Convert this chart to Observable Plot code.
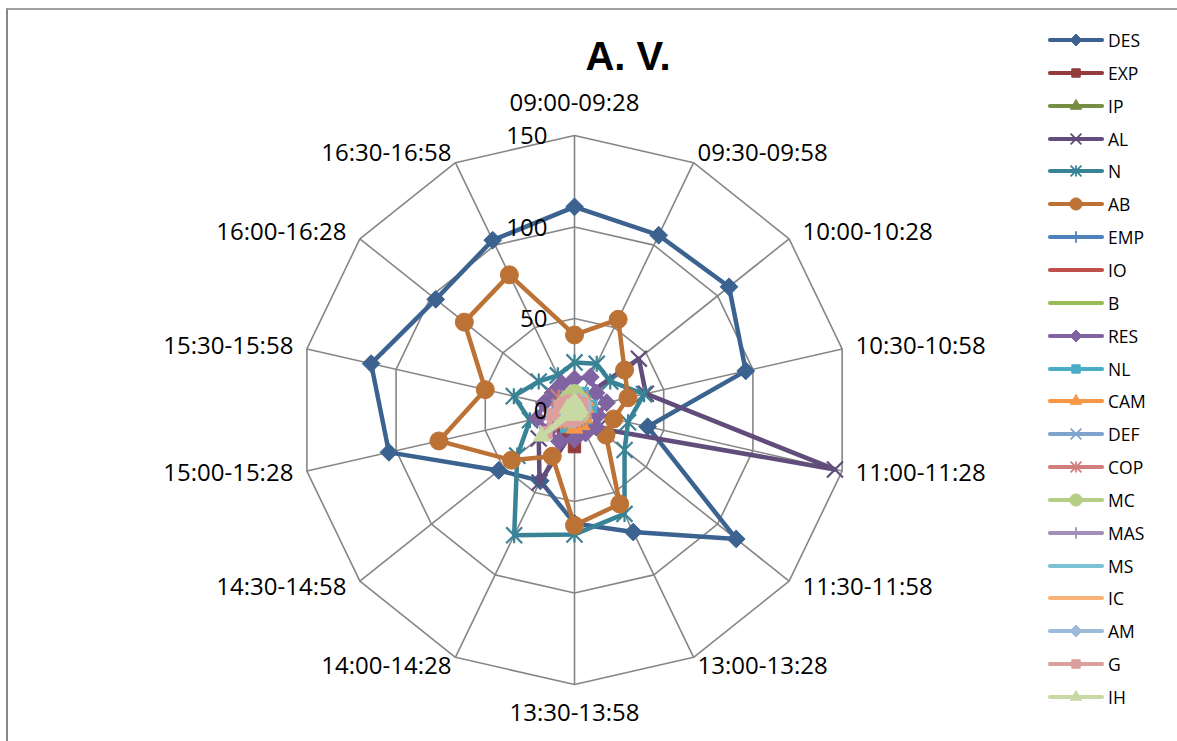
<!DOCTYPE html>
<html>
<head>
<meta charset="utf-8">
<script src="https://cdn.jsdelivr.net/npm/d3@7"></script>
<script src="https://cdn.jsdelivr.net/npm/@observablehq/plot@0.6"></script>
<style>
  html, body { margin: 0; padding: 0; background: #fff; }
  #wrap { position: relative; width: 1177px; height: 741px; overflow: hidden;
          font-family: "Open Sans", sans-serif; color: #000; }
  #frame { position: absolute; left: 6px; top: 8px; width: 1300px; height: 900px;
           border-left: 2px solid #878787; border-top: 2px solid #a0a0a0; }
  #title { position: absolute; left: 528px; width: 200px; top: 33px; text-align: center;
           font-family: "Liberation Sans", Arial, sans-serif; font-weight: bold; font-size: 40px; line-height: 46px; }
  #legend { position: absolute; left: 1044px; top: 0; }
  .item { position: absolute; left: 0; height: 24px; width: 130px; }
  .item svg { position: absolute; left: 0; top: 0; }
  .item span { position: absolute; left: 64px; top: 0; font-size: 17.5px; line-height: 24px; }
  #chart { position: absolute; left: 0; top: 0; }
</style>
</head>
<body>
<div id="wrap">
  <div id="frame"></div>
  <div id="chart"></div>
  <div id="title">A. V.</div>
  <div id="legend"></div>
</div>
<script>
// Half-hour time slots around the radar, clockwise from the top
const categories = ["09:00-09:28", "09:30-09:58", "10:00-10:28", "10:30-10:58", "11:00-11:28",
  "11:30-11:58", "13:00-13:28", "13:30-13:58", "14:00-14:28", "14:30-14:58",
  "15:00-15:28", "15:30-15:58", "16:00-16:28", "16:30-16:58"];

const valueTicks = [0, 50, 100, 150];

const seriesNames = ["DES", "EXP", "IP", "AL", "N", "AB", "EMP", "IO", "B", "RES", "NL",
  "CAM", "DEF", "COP", "MC", "MAS", "MS", "IC", "AM", "G", "IH"];

// One value per time slot for each series
const DES = [111, 106, 108, 96, 41, 113, 74, 62, 43, 53, 104, 114, 97, 103];
const EXP = [4, 3, 5, 4, 3, 5, 6, 20, 14, 6, 4, 3, 3, 3];
const IP  = [3, 2, 3, 4, 3, 3, 4, 5, 4, 3, 2, 2, 3, 3];
const AL  = [5, 6, 45, 40, 146, 16, 8, 10, 44, 25, 8, 6, 5, 6];
const N   = [26, 28, 25, 39, 30, 35, 63, 68, 76, 40, 25, 34, 25, 21];
const AB  = [41, 55, 35, 30, 22, 22, 57, 63, 28, 44, 76, 50, 77, 82];
const EMP = [5, 4, 4, 5, 4, 3, 4, 6, 5, 4, 5, 4, 4, 5];
const IO  = [3, 2, 3, 3, 2, 3, 3, 4, 3, 3, 2, 2, 2, 3];
const B   = [4, 3, 2, 3, 2, 2, 3, 3, 4, 3, 4, 3, 3, 3];
const RES = [17, 20, 15, 18, 13, 15, 14, 16, 19, 18, 21, 17, 15, 16];
const NL  = [8, 10, 7, 9, 6, 7, 8, 9, 10, 8, 10, 9, 7, 8];
const CAM = [6, 5, 8, 6, 5, 7, 9, 10, 8, 7, 9, 8, 6, 5];
const DEF = [3, 4, 3, 2, 3, 2, 3, 4, 3, 4, 5, 4, 3, 3];
const COP = [6, 7, 4, 5, 4, 3, 4, 5, 6, 5, 8, 8, 11, 7];
const MC  = [9, 6, 5, 4, 3, 4, 3, 4, 5, 6, 5, 4, 6, 7];
const MAS = [3, 2, 3, 2, 2, 3, 2, 3, 2, 3, 3, 2, 3, 2];
const MS  = [2, 3, 2, 3, 2, 2, 3, 2, 3, 2, 2, 3, 2, 2];
const IC  = [5, 6, 7, 8, 6, 5, 6, 7, 8, 6, 5, 6, 5, 4];
const AM  = [4, 5, 6, 5, 4, 3, 4, 5, 6, 7, 6, 5, 4, 3];
const G   = [5, 4, 5, 4, 3, 3, 4, 5, 6, 20, 12, 8, 6, 5];
const IH  = [4, 3, 2, 3, 2, 2, 2, 3, 2, 23, 3, 4, 3, 3];

const seriesValues = [DES, EXP, IP, AL, N, AB, EMP, IO, B, RES, NL, CAM, DEF, COP, MC, MAS, MS, IC, AM, G, IH];

// Office-style palette: six accents shaded, plain, then tinted
const accents = ["#4F81BD", "#C0504D", "#9BBB59", "#8064A2", "#4BACC6", "#F79646"];
const shade = (c, f) => { const o = d3.rgb(c); return d3.rgb(o.r * f, o.g * f, o.b * f).formatHex(); };
const tint = (c, t) => { const o = d3.rgb(c); return d3.rgb(o.r + (255 - o.r) * t, o.g + (255 - o.g) * t, o.b + (255 - o.b) * t).formatHex(); };
const colorOf = (i) => {
  const a = accents[i % 6];
  const band = Math.floor(i / 6);
  return band === 0 ? shade(a, 0.76) : band === 1 ? a : band === 2 ? tint(a, 0.27) : tint(a, 0.45);
};

// Marker shapes in the usual automatic order
const starSymbol = {
  draw(ctx, size) {
    const r = Math.sqrt(size) * 0.62;
    ctx.moveTo(-r, -r); ctx.lineTo(r, r);
    ctx.moveTo(-r, r); ctx.lineTo(r, -r);
    ctx.moveTo(0, -r); ctx.lineTo(0, r);
  }
};
const markerCycle = ["diamond", "square", "triangle", "x", "star", "circle", "plus", null, null];
const markerStyle = {
  diamond:  {symbol: "diamond2", r: 8, filled: true},
  square:   {symbol: "square", r: 7, filled: true},
  triangle: {symbol: "triangle", r: 6.2, filled: true},
  x:        {symbol: "times", r: 7.3, filled: false},
  star:     {symbol: starSymbol, r: 7.3, filled: false},
  circle:   {symbol: "circle", r: 9, filled: true},
  plus:     {symbol: "plus", r: 5.5, filled: false}
};

const nCat = categories.length;
const angleOf = (k) => (2 * Math.PI * k) / nCat;
const polar = (v, k) => ({x: v * Math.sin(angleOf(k)), y: v * Math.cos(angleOf(k))});

const vMax = 150;
const cx = 574, cy = 409.5, R = 274.5;
const W = 1177, H = 741;
const u = vMax / R; // data units per pixel, used for label offsets
const labelFont = 24;

// Grid polygons and spokes
const gridLevels = [50, 100, 150];
const gridRows = gridLevels.flatMap((lv) =>
  d3.range(nCat + 1).map((k) => ({level: lv, ...polar(lv, k % nCat)})));
const spokes = categories.map((c, k) => ({...polar(vMax, k)}));

// Category labels placed just outside the outer polygon
const catLabels = categories.map((c, k) => {
  const a = angleOf(k), s = Math.sin(a), co = Math.cos(a);
  const p = polar(vMax, k);
  if (Math.abs(s) < 1e-6) {
    return {text: c, x: 0, y: p.y + Math.sign(co) * (co > 0 ? 32 : 29) * u, anchor: "middle"};
  }
  const dx = Math.abs(s) < 0.6 ? 4 : 13.5;
  return {text: c, x: p.x + Math.sign(s) * dx * u, y: p.y + 10 * co * u, anchor: s > 0 ? "start" : "end"};
});

// Series rows, closed back to the first slot
const seriesRows = seriesValues.map((vals, i) =>
  d3.range(nCat + 1).map((k) => ({series: seriesNames[i], value: vals[k % nCat], ...polar(vals[k % nCat], k % nCat)})));

const marks = [
  Plot.line(gridRows, {x: "x", y: "y", z: "level", stroke: "#868686", strokeWidth: 1.6}),
  Plot.link(spokes, {x1: 0, y1: 0, x2: "x", y2: "y", stroke: "#868686", strokeWidth: 1.6}),
  ...["middle", "start", "end"].map((anchor) =>
    Plot.text(catLabels.filter((d) => d.anchor === anchor), {x: "x", y: "y", text: "text",
      textAnchor: anchor, fontSize: labelFont, fill: "#000"}))
];

seriesRows.forEach((rows, i) => {
  const color = colorOf(i);
  marks.push(Plot.line(rows, {x: "x", y: "y", stroke: color, strokeWidth: 4.5,
    strokeLinejoin: "round", strokeLinecap: "round"}));
  const m = markerCycle[i % markerCycle.length];
  if (m) {
    const st = markerStyle[m];
    marks.push(Plot.dot(rows.slice(0, nCat), {x: "x", y: "y", symbol: st.symbol, r: st.r,
      fill: st.filled ? color : "none", stroke: color, strokeWidth: st.filled ? 1 : 2.2}));
  }
});

// Value labels sit on top of the series, left of the top spoke
marks.push(Plot.text(valueTicks, {x: 0, y: (d) => d, dx: -27, dy: 1, textAnchor: "end", text: (d) => String(d),
  fontSize: labelFont, fill: "#000"}));

const chart = Plot.plot({
  width: W, height: H,
  marginLeft: cx - R, marginRight: W - (cx + R), marginTop: cy - R, marginBottom: H - (cy + R),
  x: {domain: [-vMax, vMax], axis: null},
  y: {domain: [-vMax, vMax], axis: null},
  style: {fontFamily: '"Open Sans", sans-serif', background: "transparent", overflow: "visible"},
  marks
});
document.getElementById("chart").appendChild(chart);

// Legend column
const legend = d3.select("#legend");
seriesNames.forEach((name, i) => {
  const color = colorOf(i);
  const item = legend.append("div").attr("class", "item").style("top", (28 + i * 32.85) + "px");
  const svg = item.append("svg").attr("width", 62).attr("height", 24);
  svg.append("line").attr("x1", 6).attr("x2", 58).attr("y1", 12).attr("y2", 12)
    .attr("stroke", color).attr("stroke-width", 4.2).attr("stroke-linecap", "round");
  const m = markerCycle[i % markerCycle.length];
  if (m) {
    const st = markerStyle[m];
    const type = typeof st.symbol === "string" ? {
      diamond2: d3.symbolDiamond2, square: d3.symbolSquare, triangle: d3.symbolTriangle,
      times: d3.symbolTimes, circle: d3.symbolCircle, plus: d3.symbolPlus}[st.symbol] : st.symbol;
    const rr = st.r * 0.68;
    svg.append("path").attr("transform", "translate(32,12)")
      .attr("d", d3.symbol(type, Math.PI * rr * rr)())
      .attr("fill", st.filled ? color : "none").attr("stroke", color).attr("stroke-width", st.filled ? 1 : 1.8);
  }
  item.append("span").text(name);
});
</script>
</body>
</html>
